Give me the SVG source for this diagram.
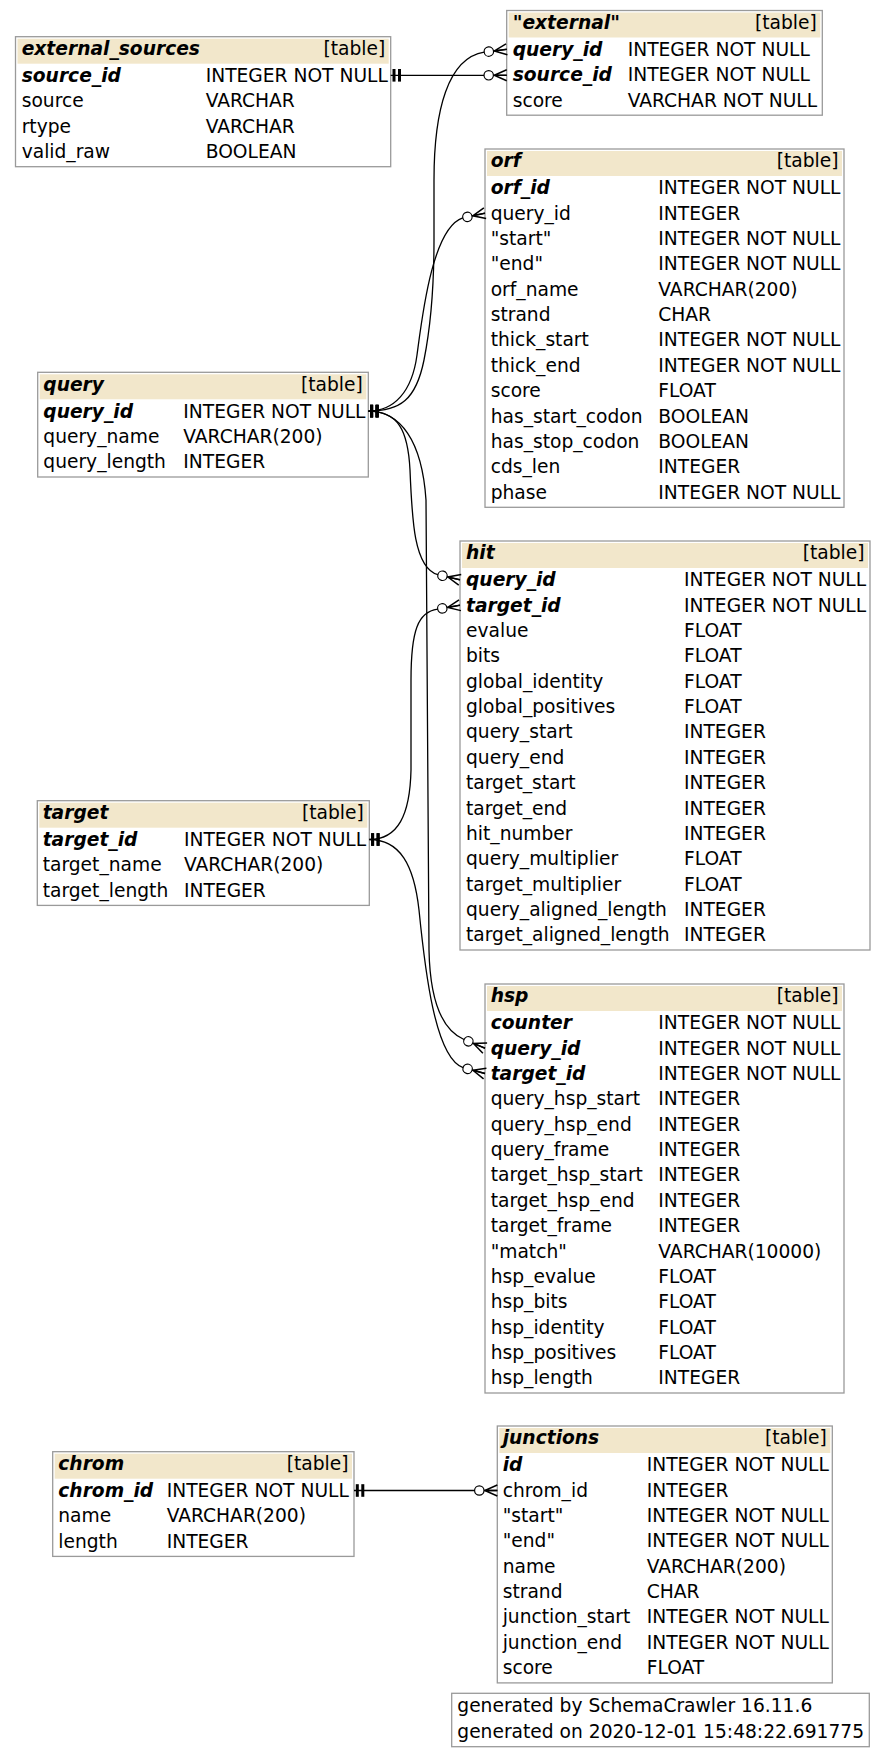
<svg xmlns="http://www.w3.org/2000/svg" width="885" height="1757" viewBox="0 0 885 1757">
<style>
.t{font-family:"DejaVu Sans","Liberation Sans",sans-serif;font-size:18.67px;fill:#000}
.b{font-weight:bold;font-style:italic}
.r{text-anchor:end}
.box{fill:#fff;stroke:#9a9a9a;stroke-width:1.3}
.hdr{fill:#f2e7cb}
.e{fill:none;stroke:#000;stroke-width:1.3}
</style>
<defs>
<marker id="crow" markerUnits="userSpaceOnUse" orient="auto" viewBox="-26 -10 30 20" markerWidth="30" markerHeight="20" refX="0" refY="0">
<path d="M0,-5.5 L-12.5,0 L0,5.5 M-12.5,0 L0,0" fill="none" stroke="#000" stroke-width="1.5"/>
<circle cx="-18" cy="0" r="4.7" fill="#fff" stroke="#000" stroke-width="1.2"/>
</marker>
<marker id="tee" markerUnits="userSpaceOnUse" orient="auto" viewBox="-2 -8 16 16" markerWidth="16" markerHeight="16" refX="0" refY="0">
<rect x="1.8" y="-6.3" width="3" height="12.6" fill="#000"/>
<rect x="7.3" y="-6.3" width="3" height="12.6" fill="#000"/>
</marker>
</defs>
<rect width="885" height="1757" fill="#fff"/>

<g id="external_sources" transform="translate(15.5,36.7)">
<rect class="box" x="0" y="0" width="375.2" height="130"/>
<rect class="hdr" x="2" y="2" width="371.2" height="25"/>
<text class="t b" x="6.2" y="18.3">external_sources</text>
<text class="t r" x="369.7" y="18.3">[table]</text>
<text class="t b" x="6.2" y="45.3">source_id</text><text class="t" x="190.2" y="45.3">INTEGER NOT NULL</text>
<text class="t" x="6.2" y="70.66">source</text><text class="t" x="190.2" y="70.66">VARCHAR</text>
<text class="t" x="6.2" y="96.02">rtype</text><text class="t" x="190.2" y="96.02">VARCHAR</text>
<text class="t" x="6.2" y="121.38">valid_raw</text><text class="t" x="190.2" y="121.38">BOOLEAN</text>
</g>

<g id="external" transform="translate(506.7,10.5)">
<rect class="box" x="0" y="0" width="315.6" height="104.7"/>
<rect class="hdr" x="2" y="2" width="311.6" height="25"/>
<text class="t b" x="6" y="18.3">"external"</text>
<text class="t r" x="310.1" y="18.3">[table]</text>
<text class="t b" x="6" y="45.3">query_id</text><text class="t" x="121" y="45.3">INTEGER NOT NULL</text>
<text class="t b" x="6" y="70.66">source_id</text><text class="t" x="121" y="70.66">INTEGER NOT NULL</text>
<text class="t" x="6" y="96.02">score</text><text class="t" x="121" y="96.02">VARCHAR NOT NULL</text>
</g>

<g id="orf" transform="translate(485,149)">
<rect class="box" x="0" y="0" width="359" height="358.3"/>
<rect class="hdr" x="2" y="2" width="355" height="25"/>
<text class="t b" x="5.7" y="18.3">orf</text>
<text class="t r" x="353.5" y="18.3">[table]</text>
<text class="t b" x="5.7" y="45.3">orf_id</text><text class="t" x="173.3" y="45.3">INTEGER NOT NULL</text>
<text class="t" x="5.7" y="70.66">query_id</text><text class="t" x="173.3" y="70.66">INTEGER</text>
<text class="t" x="5.7" y="96.02">"start"</text><text class="t" x="173.3" y="96.02">INTEGER NOT NULL</text>
<text class="t" x="5.7" y="121.38">"end"</text><text class="t" x="173.3" y="121.38">INTEGER NOT NULL</text>
<text class="t" x="5.7" y="146.74">orf_name</text><text class="t" x="173.3" y="146.74">VARCHAR(200)</text>
<text class="t" x="5.7" y="172.1">strand</text><text class="t" x="173.3" y="172.1">CHAR</text>
<text class="t" x="5.7" y="197.46">thick_start</text><text class="t" x="173.3" y="197.46">INTEGER NOT NULL</text>
<text class="t" x="5.7" y="222.82">thick_end</text><text class="t" x="173.3" y="222.82">INTEGER NOT NULL</text>
<text class="t" x="5.7" y="248.18">score</text><text class="t" x="173.3" y="248.18">FLOAT</text>
<text class="t" x="5.7" y="273.54">has_start_codon</text><text class="t" x="173.3" y="273.54">BOOLEAN</text>
<text class="t" x="5.7" y="298.9">has_stop_codon</text><text class="t" x="173.3" y="298.9">BOOLEAN</text>
<text class="t" x="5.7" y="324.26">cds_len</text><text class="t" x="173.3" y="324.26">INTEGER</text>
<text class="t" x="5.7" y="349.62">phase</text><text class="t" x="173.3" y="349.62">INTEGER NOT NULL</text>
</g>

<g id="query" transform="translate(37.7,372.3)">
<rect class="box" x="0" y="0" width="330.6" height="104.7"/>
<rect class="hdr" x="2" y="2" width="326.6" height="25"/>
<text class="t b" x="5.6" y="18.3">query</text>
<text class="t r" x="325.1" y="18.3">[table]</text>
<text class="t b" x="5.6" y="45.3">query_id</text><text class="t" x="145.6" y="45.3">INTEGER NOT NULL</text>
<text class="t" x="5.6" y="70.66">query_name</text><text class="t" x="145.6" y="70.66">VARCHAR(200)</text>
<text class="t" x="5.6" y="96.02">query_length</text><text class="t" x="145.6" y="96.02">INTEGER</text>
</g>

<g id="hit" transform="translate(460,541)">
<rect class="box" x="0" y="0" width="410" height="409"/>
<rect class="hdr" x="2" y="2" width="406" height="25"/>
<text class="t b" x="6" y="18.3">hit</text>
<text class="t r" x="404.5" y="18.3">[table]</text>
<text class="t b" x="6" y="45.3">query_id</text><text class="t" x="224" y="45.3">INTEGER NOT NULL</text>
<text class="t b" x="6" y="70.66">target_id</text><text class="t" x="224" y="70.66">INTEGER NOT NULL</text>
<text class="t" x="6" y="96.02">evalue</text><text class="t" x="224" y="96.02">FLOAT</text>
<text class="t" x="6" y="121.38">bits</text><text class="t" x="224" y="121.38">FLOAT</text>
<text class="t" x="6" y="146.74">global_identity</text><text class="t" x="224" y="146.74">FLOAT</text>
<text class="t" x="6" y="172.1">global_positives</text><text class="t" x="224" y="172.1">FLOAT</text>
<text class="t" x="6" y="197.46">query_start</text><text class="t" x="224" y="197.46">INTEGER</text>
<text class="t" x="6" y="222.82">query_end</text><text class="t" x="224" y="222.82">INTEGER</text>
<text class="t" x="6" y="248.18">target_start</text><text class="t" x="224" y="248.18">INTEGER</text>
<text class="t" x="6" y="273.54">target_end</text><text class="t" x="224" y="273.54">INTEGER</text>
<text class="t" x="6" y="298.9">hit_number</text><text class="t" x="224" y="298.9">INTEGER</text>
<text class="t" x="6" y="324.26">query_multiplier</text><text class="t" x="224" y="324.26">FLOAT</text>
<text class="t" x="6" y="349.62">target_multiplier</text><text class="t" x="224" y="349.62">FLOAT</text>
<text class="t" x="6" y="374.98">query_aligned_length</text><text class="t" x="224" y="374.98">INTEGER</text>
<text class="t" x="6" y="400.34">target_aligned_length</text><text class="t" x="224" y="400.34">INTEGER</text>
</g>

<g id="target" transform="translate(37.3,800.7)">
<rect class="box" x="0" y="0" width="332" height="104.7"/>
<rect class="hdr" x="2" y="2" width="328" height="25"/>
<text class="t b" x="5.4" y="18.3">target</text>
<text class="t r" x="326.5" y="18.3">[table]</text>
<text class="t b" x="5.4" y="45.3">target_id</text><text class="t" x="146.7" y="45.3">INTEGER NOT NULL</text>
<text class="t" x="5.4" y="70.66">target_name</text><text class="t" x="146.7" y="70.66">VARCHAR(200)</text>
<text class="t" x="5.4" y="96.02">target_length</text><text class="t" x="146.7" y="96.02">INTEGER</text>
</g>

<g id="hsp" transform="translate(485,984)">
<rect class="box" x="0" y="0" width="359" height="409"/>
<rect class="hdr" x="2" y="2" width="355" height="25"/>
<text class="t b" x="5.7" y="18.3">hsp</text>
<text class="t r" x="353.5" y="18.3">[table]</text>
<text class="t b" x="5.7" y="45.3">counter</text><text class="t" x="173.3" y="45.3">INTEGER NOT NULL</text>
<text class="t b" x="5.7" y="70.66">query_id</text><text class="t" x="173.3" y="70.66">INTEGER NOT NULL</text>
<text class="t b" x="5.7" y="96.02">target_id</text><text class="t" x="173.3" y="96.02">INTEGER NOT NULL</text>
<text class="t" x="5.7" y="121.38">query_hsp_start</text><text class="t" x="173.3" y="121.38">INTEGER</text>
<text class="t" x="5.7" y="146.74">query_hsp_end</text><text class="t" x="173.3" y="146.74">INTEGER</text>
<text class="t" x="5.7" y="172.1">query_frame</text><text class="t" x="173.3" y="172.1">INTEGER</text>
<text class="t" x="5.7" y="197.46">target_hsp_start</text><text class="t" x="173.3" y="197.46">INTEGER</text>
<text class="t" x="5.7" y="222.82">target_hsp_end</text><text class="t" x="173.3" y="222.82">INTEGER</text>
<text class="t" x="5.7" y="248.18">target_frame</text><text class="t" x="173.3" y="248.18">INTEGER</text>
<text class="t" x="5.7" y="273.54">"match"</text><text class="t" x="173.3" y="273.54">VARCHAR(10000)</text>
<text class="t" x="5.7" y="298.9">hsp_evalue</text><text class="t" x="173.3" y="298.9">FLOAT</text>
<text class="t" x="5.7" y="324.26">hsp_bits</text><text class="t" x="173.3" y="324.26">FLOAT</text>
<text class="t" x="5.7" y="349.62">hsp_identity</text><text class="t" x="173.3" y="349.62">FLOAT</text>
<text class="t" x="5.7" y="374.98">hsp_positives</text><text class="t" x="173.3" y="374.98">FLOAT</text>
<text class="t" x="5.7" y="400.34">hsp_length</text><text class="t" x="173.3" y="400.34">INTEGER</text>
</g>

<g id="chrom" transform="translate(52.7,1451.7)">
<rect class="box" x="0" y="0" width="301.3" height="104.7"/>
<rect class="hdr" x="2" y="2" width="297.3" height="25"/>
<text class="t b" x="5.6" y="18.3">chrom</text>
<text class="t r" x="295.8" y="18.3">[table]</text>
<text class="t b" x="5.6" y="45.3">chrom_id</text><text class="t" x="114" y="45.3">INTEGER NOT NULL</text>
<text class="t" x="5.6" y="70.66">name</text><text class="t" x="114" y="70.66">VARCHAR(200)</text>
<text class="t" x="5.6" y="96.02">length</text><text class="t" x="114" y="96.02">INTEGER</text>
</g>

<g id="junctions" transform="translate(497.3,1426)">
<rect class="box" x="0" y="0" width="335" height="256.9"/>
<rect class="hdr" x="2" y="2" width="331" height="25"/>
<text class="t b" x="5.4" y="18.3">junctions</text>
<text class="t r" x="329.5" y="18.3">[table]</text>
<text class="t b" x="5.4" y="45.3">id</text><text class="t" x="149.4" y="45.3">INTEGER NOT NULL</text>
<text class="t" x="5.4" y="70.66">chrom_id</text><text class="t" x="149.4" y="70.66">INTEGER</text>
<text class="t" x="5.4" y="96.02">"start"</text><text class="t" x="149.4" y="96.02">INTEGER NOT NULL</text>
<text class="t" x="5.4" y="121.38">"end"</text><text class="t" x="149.4" y="121.38">INTEGER NOT NULL</text>
<text class="t" x="5.4" y="146.74">name</text><text class="t" x="149.4" y="146.74">VARCHAR(200)</text>
<text class="t" x="5.4" y="172.1">strand</text><text class="t" x="149.4" y="172.1">CHAR</text>
<text class="t" x="5.4" y="197.46">junction_start</text><text class="t" x="149.4" y="197.46">INTEGER NOT NULL</text>
<text class="t" x="5.4" y="222.82">junction_end</text><text class="t" x="149.4" y="222.82">INTEGER NOT NULL</text>
<text class="t" x="5.4" y="248.18">score</text><text class="t" x="149.4" y="248.18">FLOAT</text>
</g>

<g id="footer">
<rect class="box" x="451.7" y="1693.3" width="417.6" height="53.4"/>
<text class="t" x="457.3" y="1711.7">generated by SchemaCrawler 16.11.6</text>
<text class="t" x="457.3" y="1738.3">generated on 2020-12-01 15:48:22.691775</text>
</g>

<g id="connectors">
<path class="e" marker-start="url(#tee)" marker-end="url(#crow)" d="M390.7,75.3 L506.7,75.3"/>
<path class="e" marker-start="url(#tee)" marker-end="url(#crow)" d="M368.3,411.1 C400,411.1 416,400 424,360 C432,320 434,280 434,240 L434,180 C434,110 448,58 484.2,52.2 L506.7,49.3"/>
<path class="e" marker-start="url(#tee)" marker-end="url(#crow)" d="M368.3,411.1 C394,411.1 412,392 417,355 C422,318 432,228 462.8,217.9 L485,213.2"/>
<path class="e" marker-start="url(#tee)" marker-end="url(#crow)" d="M368.3,411.1 C398,411.1 408,430 410,470 C412,520 414,568 437.9,574.7 L460,579.8"/>
<path class="e" marker-start="url(#tee)" marker-end="url(#crow)" d="M368.3,411.1 C400,411.1 422,440 426,500 L429,950 C430,1000 442,1030 464,1039.5 L485,1048.2"/>
<path class="e" marker-start="url(#tee)" marker-end="url(#crow)" d="M369.3,839.5 C398,839.5 410,815 411,770 L411,680 C411,630 418,612 437.6,609.2 L460,605.2"/>
<path class="e" marker-start="url(#tee)" marker-end="url(#crow)" d="M369.3,839.5 C400,839.5 414,865 419,910 C425,970 435,1058 463.1,1067.6 L485,1073.5"/>
<path class="e" marker-start="url(#tee)" marker-end="url(#crow)" d="M354,1490.5 L497.3,1490.5"/>
</g>
</svg>
